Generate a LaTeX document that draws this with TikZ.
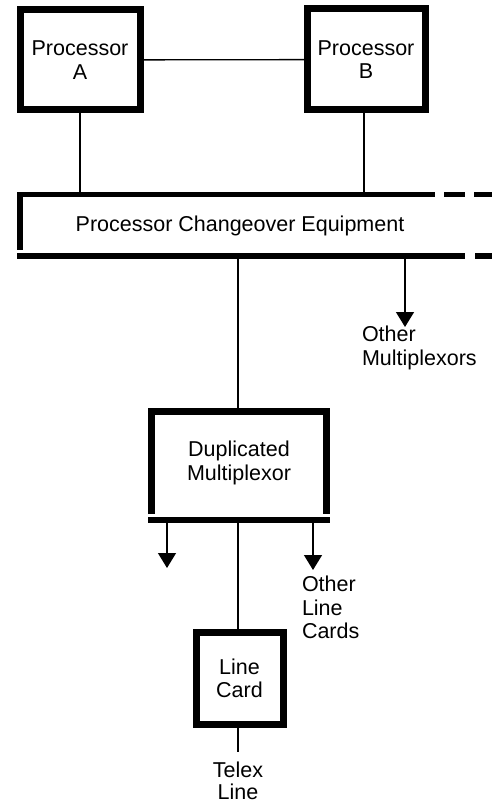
\documentclass[tikz,border=0pt]{standalone}
\usepackage{fontspec}
\setmainfont{Liberation Sans}
\usetikzlibrary{arrows.meta,calc}
\newcommand{\lblfont}{\fontsize{21.5}{23.5}\selectfont}
\begin{document}
\begin{tikzpicture}[x=1pt,y=-1pt,
  boxnode/.style={draw, line width=7pt, align=center, font=\lblfont, inner sep=0pt, outer sep=0pt},
  plain/.style={align=center, font=\lblfont, inner sep=0pt, outer sep=0pt},
  leftlbl/.style={align=left, font=\lblfont, inner sep=0pt, outer sep=0pt},
  thinline/.style={line width=1.3pt},
  barline/.style={line width=6pt},
  boxline/.style={line width=7pt, line join=miter},
  arr/.style={line width=1.3pt, -{Triangle[width=18pt,length=15pt]}}
]
\useasboundingbox (0,0) rectangle (492,805);

% processors
\node[boxnode, minimum width=120pt, minimum height=100pt] (procA) at (80,60) {Processor\\A};
\node[boxnode, minimum width=118pt, minimum height=101pt] (procB) at (366,59.5) {Processor\\B};
\draw[thinline] (procA) -- (procB);

% processor changeover equipment
\node[plain, anchor=base] (pce) at (240,231) {Processor Changeover Equipment};
\coordinate (pceTopL) at (17,194.5);
\coordinate (pceTopR) at (492,194.5);
\coordinate (pceBotL) at (17,256);
\coordinate (pceBotR) at (492,256);
\draw[line width=5.5pt, dash pattern=on 418pt off 9pt on 21pt off 9pt on 30pt] (pceTopL) -- (pceTopR);
\draw[barline, dash pattern=on 448pt off 10pt on 30pt] (pceBotL) -- (pceBotR);
\draw[barline] (20,197) -- (20,250);

\coordinate (aLink) at (80,192);
\coordinate (bLink) at (364,192);
\draw[thinline] (procA.south) -- (aLink);
\draw[thinline] (bLink |- procB.south) -- (bLink);

% other multiplexors
\coordinate (omStart) at (405,259);
\node[leftlbl, anchor=north west] (om) at (362,326) {Other\\Multiplexors};
\draw[arr] (omStart) -- (405,327);

% duplicated multiplexor
\node[plain, minimum width=175pt, minimum height=102.5pt] (dm) at (239,462.75) {Duplicated\\Multiplexor};
\draw[boxline] (dm.south west) -- (dm.north west) -- (dm.north east) -- (dm.south east);
\draw[barline] ($(dm.south west)+(-3.5,6)$) -- ($(dm.south east)+(3.5,6)$);
\coordinate (pceDown) at (238,259);
\draw[thinline] (pceDown) -- (pceDown |- dm.north);

% arrows below multiplexor
\coordinate (dmL) at (167,523);
\coordinate (dmR) at (313,523);
\draw[arr] (dmL) -- (167,568);
\draw[arr] (dmR) -- (313,570);
\node[leftlbl, anchor=north west] (olc) at (302,576) {Other\\Line\\Cards};

% line card
\node[boxnode, minimum width=87pt, minimum height=92pt] (lc) at (239.5,678.5) {Line\\Card};
\coordinate (dmDown) at (238,523);
\draw[thinline] (dmDown) -- (dmDown |- lc.north);

% telex line
\node[plain, anchor=north, font=\fontsize{21.5}{21.5}\selectfont] (telex) at (238,762) {Telex\\Line};
\draw[thinline, shorten >=10pt] (lc.south -| telex.north) -- (telex.north);
\end{tikzpicture}
\end{document}
